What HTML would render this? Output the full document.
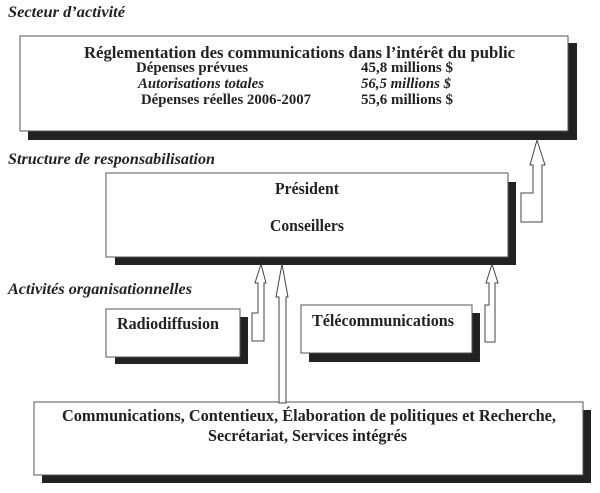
<!DOCTYPE html>
<html><head><meta charset="utf-8"><style>
html,body{margin:0;padding:0;background:#fff;}
svg{display:block;}
text{font-family:"Liberation Serif","Times New Roman",serif;font-weight:bold;fill:#222;}
.i{font-style:italic;}
</style></head><body>
<svg width="600" height="493" viewBox="0 0 600 493" xmlns="http://www.w3.org/2000/svg">
<g font-size="15.5">
<text class="i" x="8" y="17" textLength="117" lengthAdjust="spacingAndGlyphs">Secteur d’activité</text>
<text class="i" x="8" y="164" textLength="207" lengthAdjust="spacingAndGlyphs">Structure de responsabilisation</text>
<text class="i" x="8" y="294" textLength="184" lengthAdjust="spacingAndGlyphs">Activités organisationnelles</text>
</g>
<!-- top box -->
<rect x="28" y="43" width="549" height="97" fill="#222"/>
<rect x="20" y="36" width="548" height="95" fill="#fff" stroke="#555" stroke-width="1"/>
<g font-size="17">
<text x="84" y="58" textLength="431" lengthAdjust="spacingAndGlyphs">Réglementation des communications dans l’intérêt du public</text>
</g>
<g font-size="15">
<text x="136" y="72" textLength="112" lengthAdjust="spacingAndGlyphs">Dépenses prévues</text>
<text x="361" y="72" textLength="92" lengthAdjust="spacingAndGlyphs">45,8 millions $</text>
<text class="i" x="138" y="88" textLength="126" lengthAdjust="spacingAndGlyphs">Autorisations totales</text>
<text class="i" x="361" y="88" textLength="90" lengthAdjust="spacingAndGlyphs">56,5 millions $</text>
<text x="141" y="104" textLength="170" lengthAdjust="spacingAndGlyphs">Dépenses réelles 2006-2007</text>
<text x="361" y="104" textLength="92" lengthAdjust="spacingAndGlyphs">55,6 millions $</text>
</g>
<!-- president box -->
<rect x="115" y="182" width="401" height="83" fill="#222"/>
<rect x="106" y="173" width="402" height="84" fill="#fff" stroke="#555" stroke-width="1"/>
<g font-size="17">
<text x="275" y="194" textLength="64" lengthAdjust="spacingAndGlyphs">Président</text>
<text x="270" y="231" textLength="74" lengthAdjust="spacingAndGlyphs">Conseillers</text>
</g>
<!-- radio box -->
<rect x="115" y="317" width="133" height="47" fill="#222"/>
<rect x="106" y="309" width="134" height="48" fill="#fff" stroke="#555" stroke-width="1"/>
<text font-size="17" x="117" y="329" textLength="102" lengthAdjust="spacingAndGlyphs">Radiodiffusion</text>
<!-- telecom box -->
<rect x="309" y="313" width="171" height="49" fill="#222"/>
<rect x="301" y="305" width="171" height="48" fill="#fff" stroke="#555" stroke-width="1"/>
<text font-size="17" x="312" y="326" textLength="142" lengthAdjust="spacingAndGlyphs">Télécommunications</text>
<!-- bottom box -->
<rect x="42" y="410" width="549" height="73" fill="#222"/>
<rect x="34" y="402" width="549" height="73" fill="#fff" stroke="#555" stroke-width="1"/>
<g font-size="17">
<text x="62" y="421" textLength="494" lengthAdjust="spacingAndGlyphs">Communications, Contentieux, Élaboration de politiques et Recherche,</text>
<text x="208" y="441" textLength="199" lengthAdjust="spacingAndGlyphs">Secrétariat, Services intégrés</text>
</g>
<!-- arrows -->
<g fill="#fff" stroke="#444" stroke-width="1">
<polygon points="537,140 545,165 542,165 542,222 521,222 521,193 533,193 533,165 530,165"/>
<polygon points="261,264 266,283 264,283 264,341 252,341 252,313 258,313 258,283 255,283"/>
<polygon points="282,264 288,297 286,297 286,403 279,403 279,297 276,297"/>
<polygon points="492,264 498,283 495,283 495,342 485,342 485,305 489,305 489,283 486,283"/>
</g>
</svg>
</body></html>
